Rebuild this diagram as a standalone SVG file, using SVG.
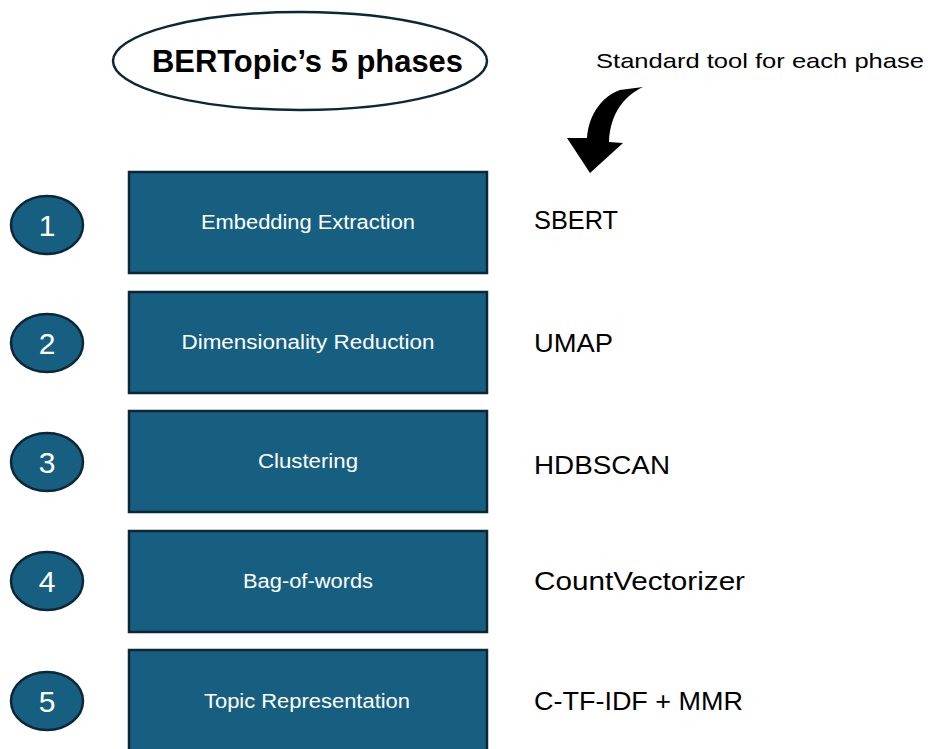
<svg xmlns="http://www.w3.org/2000/svg" width="928" height="749" viewBox="0 0 928 749">
  <style>
    .phase rect { fill: #175f81; stroke: #0c2838; stroke-width: 2.5; }
    .num ellipse { fill: #175f81; stroke: #0c2838; stroke-width: 2.5; }
    .num text { fill: #ffffff; font-family: "Liberation Sans", Arial, sans-serif; font-size: 30px; text-anchor: middle; }
    .phase text { fill: #ffffff; font-family: "Liberation Sans", Arial, sans-serif; font-size: 20px; text-anchor: middle; }
    .tool { fill: #000000; font-family: "Liberation Sans", Arial, sans-serif; font-size: 26px; }
  </style>
  <rect width="928" height="749" fill="#ffffff"/>

  <!-- title -->
  <g id="title">
    <ellipse cx="300" cy="61" rx="187" ry="49" fill="#ffffff" stroke="#0c2838" stroke-width="2.5"/>
    <text x="307.5" y="72" font-family="Liberation Sans, Arial, sans-serif" font-weight="bold" font-size="31" text-anchor="middle" textLength="311" lengthAdjust="spacingAndGlyphs">BERTopic’s 5 phases</text>
  </g>

  <!-- caption and curved arrow -->
  <g id="caption">
    <text x="596" y="68" font-family="Liberation Sans, Arial, sans-serif" font-size="21" textLength="328" lengthAdjust="spacingAndGlyphs">Standard tool for each phase</text>
    <path d="M643,87 C626,95 610,112 609,142 L623,143 L590,173 L567,138 L587,138 C589,113 603,96 620,90 Z" fill="#000000"/>
  </g>

  <!-- step numbers -->
  <g id="n1" class="num"><ellipse cx="47" cy="225" rx="36" ry="29"/><text x="47" y="236">1</text></g>
  <g id="n2" class="num"><ellipse cx="47" cy="343" rx="36" ry="29"/><text x="47" y="354">2</text></g>
  <g id="n3" class="num"><ellipse cx="47" cy="462" rx="36" ry="29"/><text x="47" y="473">3</text></g>
  <g id="n4" class="num"><ellipse cx="47" cy="581" rx="36" ry="29"/><text x="47" y="592">4</text></g>
  <g id="n5" class="num"><ellipse cx="47" cy="701" rx="36" ry="29"/><text x="47" y="712">5</text></g>

  <!-- phases -->
  <g id="p1" class="phase"><rect x="129" y="172" width="358" height="101"/><text x="308" y="229" textLength="214" lengthAdjust="spacingAndGlyphs">Embedding Extraction</text></g>
  <g id="p2" class="phase"><rect x="129" y="292" width="358" height="101"/><text x="308" y="349" textLength="253" lengthAdjust="spacingAndGlyphs">Dimensionality Reduction</text></g>
  <g id="p3" class="phase"><rect x="129" y="411" width="358" height="101"/><text x="308" y="468" textLength="100" lengthAdjust="spacingAndGlyphs">Clustering</text></g>
  <g id="p4" class="phase"><rect x="129" y="531" width="358" height="101"/><text x="308" y="588" textLength="130" lengthAdjust="spacingAndGlyphs">Bag-of-words</text></g>
  <g id="p5" class="phase"><rect x="129" y="650" width="358" height="101"/><text x="307" y="708" textLength="206" lengthAdjust="spacingAndGlyphs">Topic Representation</text></g>

  <!-- tools -->
  <g id="tools">
    <text class="tool" x="534" y="229" textLength="84" lengthAdjust="spacingAndGlyphs">SBERT</text>
    <text class="tool" x="534" y="352" textLength="79" lengthAdjust="spacingAndGlyphs">UMAP</text>
    <text class="tool" x="534" y="474" textLength="136" lengthAdjust="spacingAndGlyphs">HDBSCAN</text>
    <text class="tool" x="534" y="590" textLength="211" lengthAdjust="spacingAndGlyphs">CountVectorizer</text>
    <text class="tool" x="534" y="710" textLength="209" lengthAdjust="spacingAndGlyphs">C-TF-IDF + MMR</text>
  </g>

  <g id="connectors"/>
</svg>
